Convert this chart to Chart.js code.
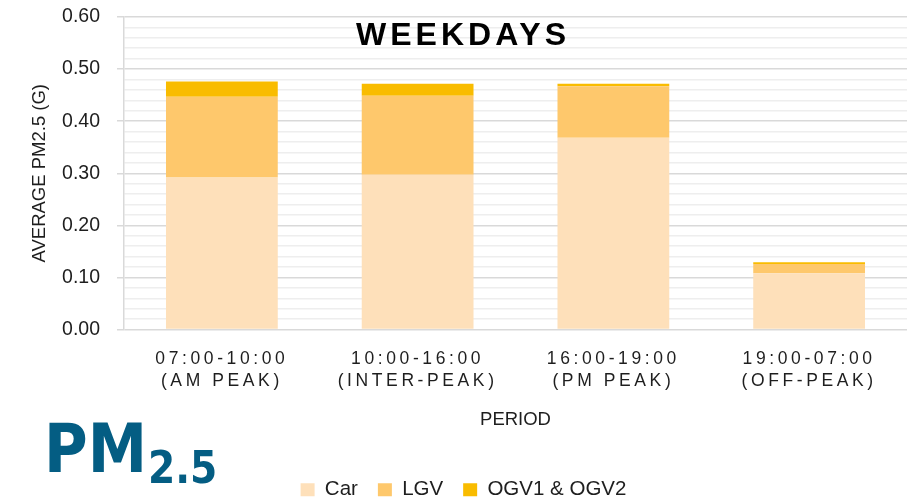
<!DOCTYPE html>
<html><head><meta charset="utf-8">
<script src="https://cdn.jsdelivr.net/npm/chart.js@4/dist/chart.umd.min.js"></script>
<style>html,body{margin:0;padding:0;background:#fff;overflow:hidden;height:500px}canvas{display:block}</style>
</head><body><canvas id="c" width="914" height="510"></canvas>
<script>
const categories = [['07:00-10:00','(AM PEAK)'],['10:00-16:00','(INTER-PEAK)'],['16:00-19:00','(PM PEAK)'],['19:00-07:00','(OFF-PEAK)']];
const seriesNames = ['Car','LGV','OGV1 & OGV2'];
const carValues = [0.292,0.297,0.368,0.108];
const lgvValues = [0.155,0.152,0.099,0.018];
const ogvValues = [0.029,0.023,0.005,0.003];
const seriesColors = ['#FEE0BA','#FEC86C','#F9BC00'];
const chartTitle = 'WEEKDAYS';
const yAxisTitle = 'AVERAGE PM2.5 (G)';
const xAxisTitle = 'PERIOD';
const logoMain = 'PM';
const logoSub = '2.5';
const FONT = '"Liberation Sans", Arial, sans-serif';
const TEXT = '#1e1e1e';

function isMajor(v){ return Math.abs(Math.round(v*10) - v*10) < 1e-6; }

const letterSpacer = {
  id:'letterSpacer',
  afterLayout(chart){
    const s = chart.scales.x;
    if (s && !s._lsWrapped){
      const orig = s.drawLabels.bind(s);
      s.drawLabels = function(ca){ const ctx=this.ctx; ctx.save(); ctx.letterSpacing='3.6px'; orig(ca); ctx.restore(); };
      s._lsWrapped = true;
    }
  }
};

const overlay = {
  id:'overlay',
  afterDraw(chart){
    const ctx = chart.ctx;
    ctx.save();
    ctx.fillStyle = '#000';
    ctx.font = 'bold 32px ' + FONT;
    ctx.letterSpacing = '4px';
    ctx.textAlign = 'center';
    ctx.textBaseline = 'alphabetic';
    ctx.fillText(chartTitle, 463, 45);
    ctx.letterSpacing = '0px';
    ctx.fillStyle = '#045D83';
    ctx.textAlign = 'left';
    ctx.save();
    ctx.translate(44, 472);
    ctx.scale(0.89, 1);
    ctx.font = 'bold 67px "DejaVu Sans", sans-serif';
    ctx.fillText(logoMain, 0, 0);
    ctx.restore();
    ctx.save();
    ctx.translate(148, 483);
    ctx.scale(0.87, 1);
    ctx.font = 'bold 45px "DejaVu Sans", sans-serif';
    ctx.fillText(logoSub, 0, 0);
    ctx.restore();
    ctx.restore();
  }
};

new Chart(document.getElementById('c'), {
  type:'bar',
  data:{
    labels: categories,
    datasets:[
      {label:seriesNames[0], data:carValues, backgroundColor:seriesColors[0]},
      {label:seriesNames[1], data:lgvValues, backgroundColor:seriesColors[1]},
      {label:seriesNames[2], data:ogvValues, backgroundColor:seriesColors[2]}
    ]
  },
  options:{
    responsive:false,
    animation:false,
    layout:{padding:{left:20,right:7,top:17,bottom:0}},
    datasets:{bar:{barPercentage:0.571, categoryPercentage:1, borderWidth:0}},
    plugins:{
      title:{display:false},
      tooltip:{enabled:false},
      legend:{
        position:'bottom',
        labels:{boxWidth:14, boxHeight:13, padding:20, color:TEXT, font:{family:FONT, size:20.5}}
      }
    },
    scales:{
      x:{
        stacked:true,
        grid:{display:false, drawTicks:false},
        border:{display:false},
        ticks:{padding:18, color:TEXT, autoSkip:false, maxRotation:0, font:{family:FONT, size:17.5, lineHeight:1.3}},
        title:{display:true, text:xAxisTitle, color:TEXT, font:{family:FONT, size:18.5}, padding:{top:0,bottom:28}},
        afterFit(s){ s.height = 130; }
      },
      y:{
        stacked:true, min:0, max:0.6,
        ticks:{stepSize:0.02, autoSkip:false, padding:17, color:TEXT, font:{family:FONT, size:19.5},
          callback:(v)=> isMajor(v) ? Number(v).toFixed(2) : ''},
        grid:{
          color:(c)=> isMajor(c.tick.value) ? '#d9d9d9' : '#eeeeee',
          tickColor:(c)=> isMajor(c.tick.value) ? '#d9d9d9' : 'rgba(0,0,0,0)',
          lineWidth:1.5, tickLength:7
        },
        border:{display:true, color:'#d9d9d9', width:1.5},
        title:{display:true, text:yAxisTitle, color:TEXT, font:{family:FONT, size:18.5}, padding:{top:9,bottom:0}},
        afterFit(s){ s.width = 104; s.paddingTop = 0; s.paddingBottom = 0; }
      }
    }
  },
  plugins:[letterSpacer, overlay]
});
</script></body></html>
